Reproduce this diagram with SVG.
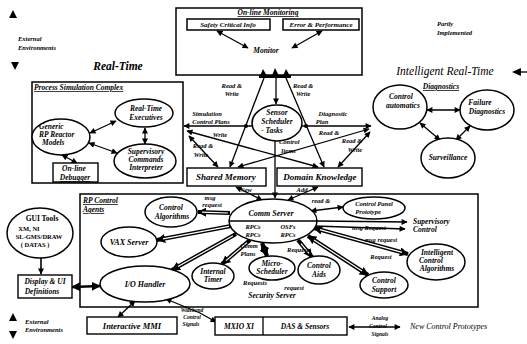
<svg xmlns="http://www.w3.org/2000/svg" width="527" height="344" viewBox="0 0 527 344">
<style>
.bx{fill:none;stroke:#000;stroke-width:1.5}
.nb{fill:#fff;stroke:#000;stroke-width:1.4}
.el{fill:#fff;stroke:#000;stroke-width:1.5}
.t{font-family:"Liberation Serif",serif;font-style:italic;font-weight:bold;font-size:7.5px;fill:#000;text-anchor:middle}
.l{font-size:6.5px}
.h{font-size:11.5px}
.s{text-anchor:start}
.u{text-decoration:underline}
.n{font-style:normal}
.ln{stroke:#000;stroke-width:1.3;fill:none}
.th{stroke:#000;stroke-width:4.2;fill:none}
.tw{stroke:#fff;stroke-width:1.2;fill:none}
</style>
<defs>
<marker id="ah" viewBox="0 0 10 10" refX="9" refY="5" markerWidth="7" markerHeight="6" orient="auto-start-reverse" markerUnits="userSpaceOnUse"><path d="M0,0 L10,5 L0,10 z"/></marker>
<marker id="ab" viewBox="0 0 10 10" refX="9" refY="5" markerWidth="9" markerHeight="9" orient="auto-start-reverse" markerUnits="userSpaceOnUse"><path d="M0,0 L10,5 L0,10 z"/></marker>
</defs>
<rect width="527" height="344" fill="#fff"/>

<g id="labels-free">
<polygon points="13,10 9,18 17,18"/>
<text class="t l s" x="18" y="41">External</text>
<text class="t l s" x="18" y="50">Environments</text>
<polygon points="11,62 19,62 15,70"/>
<text class="t h" x="118" y="70">Real-Time</text>
<text class="t l s" x="437" y="26">Partly</text>
<text class="t l s" x="437" y="35">Implemented</text>
<text class="t h" x="445" y="75" style="font-weight:normal">Intelligent Real-Time</text>
<polygon points="512,72 521,68 521,76"/>
<line x1="520" y1="72" x2="527" y2="72" class="ln"/>
<text class="t u" x="441" y="89">Diagnostics</text>
<polygon points="13,313 9,321 17,321"/>
<text class="t l s" x="25" y="324">External</text>
<text class="t l s" x="25" y="332">Environments</text>
<polygon points="9,331 17,331 13,339"/>
<text class="t l" x="192" y="312" style="font-size:5.5px">Wideband</text>
<text class="t l" x="192" y="319" style="font-size:5.5px">Control</text>
<text class="t l" x="191" y="326" style="font-size:5.5px">Signals</text>
<text class="t l" x="380" y="320" style="font-size:5.5px">Analog</text>
<text class="t l" x="378" y="328" style="font-size:5.5px">Control</text>
<text class="t l" x="380" y="336" style="font-size:5.5px">Signals</text>
<text class="t s" x="410" y="329" style="font-weight:normal;font-size:8px">New Control Prototypes</text>
</g>

<g id="monitoring">
<rect class="bx" x="176" y="8" width="186" height="67"/>
<text class="t u" x="268" y="15">On-line Monitoring</text>
<text class="t" x="266" y="53">Monitor</text>
</g>
<g id="safety"><rect class="bx" x="187" y="19" width="83" height="11"/><text class="t" x="228" y="27" style="font-size:7px">Safety Critical Info</text></g>
<g id="error"><rect class="bx" x="283" y="19" width="76" height="11"/><text class="t" x="321" y="27" style="font-size:7px">Error &amp; Performance</text></g>

<g id="procsim">
<rect class="bx" x="32" y="82" width="151" height="101"/>
<text class="t s u" x="34" y="90">Process Simulation Complex</text>
</g>

<g id="rpagents">
<rect class="bx" x="80" y="194" width="398" height="113"/>
<text class="t s u" x="83" y="203">RP Control</text>
<text class="t s u" x="83" y="212">Agents</text>
</g>

<g id="connectors">
<line class="ln" x1="217" y1="31" x2="248" y2="48" marker-start="url(#ah)" marker-end="url(#ah)"/>
<line class="ln" x1="322" y1="31" x2="292" y2="48" marker-start="url(#ah)" marker-end="url(#ah)"/>
<polygon points="263,69 259,78 268,78"/>
<polygon points="275,68 271,78 280,78"/>
<polygon points="286,69 282,78 291,78"/>
<rect x="259" y="75" width="32" height="3"/>
<line class="ln" x1="264" y1="78" x2="230" y2="167" marker-end="url(#ah)"/>
<line class="ln" x1="276" y1="78" x2="276" y2="104" marker-end="url(#ah)"/>
<line class="ln" x1="286" y1="78" x2="324" y2="167" marker-end="url(#ah)"/>
<line class="ln" x1="184" y1="126" x2="371" y2="126" marker-start="url(#ah)" marker-end="url(#ah)"/>
<circle cx="246" cy="126" r="2"/>
<circle cx="306" cy="126" r="2"/>
<line class="ln" x1="187" y1="131" x2="318" y2="167" marker-start="url(#ah)" marker-end="url(#ah)"/>
<line class="ln" x1="369" y1="129" x2="238" y2="167" marker-start="url(#ah)" marker-end="url(#ah)"/>
<line class="ln" x1="189" y1="136" x2="218" y2="167" marker-start="url(#ah)" marker-end="url(#ah)"/>
<line class="ln" x1="370" y1="132" x2="338" y2="167" marker-start="url(#ah)" marker-end="url(#ah)"/>
<line class="ln" x1="275" y1="141" x2="275" y2="198" marker-end="url(#ah)"/>
<line class="ln" x1="236" y1="187" x2="262" y2="200" marker-start="url(#ah)" marker-end="url(#ah)"/>
<line class="ln" x1="318" y1="187" x2="288" y2="200" marker-start="url(#ah)" marker-end="url(#ah)"/>
<text class="t l" x="242" y="88" style="text-anchor:end">Read &amp;</text>
<text class="t l" x="239" y="96" style="text-anchor:end">Write</text>
<text class="t l s" x="293" y="88">Read &amp;</text>
<text class="t l s" x="296" y="96">Write</text>
<text class="t l" x="207" y="116">Simulation</text>
<text class="t l" x="211" y="124">Control Plans</text>
<text class="t l" x="333" y="116">Diagnostic</text>
<text class="t l" x="322" y="124">Plan</text>
<text class="t l" x="220" y="137">Write</text>
<text class="t l" x="203" y="148">Read &amp;</text>
<text class="t l" x="201" y="157">Write</text>
<text class="t l s" x="279" y="144">Control</text>
<text class="t l s" x="281" y="153">Items</text>
<text class="t l" x="329" y="135">Read &amp;</text>
<text class="t l" x="352" y="143">Read &amp;</text>
<text class="t l" x="355" y="152">Write</text>
<text class="t l" x="246" y="192">New</text>
<text class="t l" x="302" y="192">Add</text>

<line class="ln" x1="90" y1="133" x2="116" y2="121" marker-start="url(#ah)" marker-end="url(#ah)"/>
<line class="ln" x1="89" y1="143" x2="117" y2="153" marker-start="url(#ah)" marker-end="url(#ah)"/>
<line class="ln" x1="145" y1="128" x2="145" y2="144" marker-start="url(#ah)" marker-end="url(#ah)"/>
<line class="ln" x1="62" y1="155" x2="77" y2="163" marker-start="url(#ah)" marker-end="url(#ah)"/>

<line class="ln" x1="427" y1="110" x2="460" y2="110" marker-start="url(#ah)" marker-end="url(#ah)"/>
<line class="ln" x1="420" y1="123" x2="440" y2="140" marker-start="url(#ah)" marker-end="url(#ah)"/>
<line class="ln" x1="470" y1="126" x2="456" y2="140" marker-start="url(#ah)" marker-end="url(#ah)"/>

<line class="th" x1="230" y1="213" x2="198" y2="212" marker-end="url(#ab)"/>
<line class="th" x1="231" y1="226" x2="157" y2="240" marker-end="url(#ab)"/>
<line class="th" x1="236" y1="234" x2="172" y2="270" marker-end="url(#ab)"/>
<line class="th" x1="250" y1="240" x2="222" y2="264" marker-end="url(#ab)"/>
<line class="th" x1="262" y1="243" x2="267" y2="256" marker-start="url(#ab)" marker-end="url(#ab)"/>
<line class="th" x1="298" y1="240" x2="312" y2="257" marker-end="url(#ab)"/>
<line class="th" x1="308" y1="236" x2="368" y2="275" marker-start="url(#ab)" marker-end="url(#ab)"/>
<line class="th" x1="314" y1="228" x2="408" y2="254" marker-start="url(#ab)" marker-end="url(#ab)"/>
<line class="tw" x1="228" y1="213" x2="202" y2="212.2"/>
<line class="tw" x1="229" y1="226.4" x2="163" y2="238.8"/>
<line class="tw" x1="233" y1="235.7" x2="178" y2="266.6"/>
<line class="tw" x1="247" y1="242.6" x2="226" y2="260.6"/>
<line class="tw" x1="301" y1="243.6" x2="309" y2="253.4"/>
<line class="tw" x1="314" y1="240" x2="362" y2="271"/>
<line class="tw" x1="320" y1="229.7" x2="402" y2="252.3"/>
<line class="ln" x1="317" y1="221" x2="407" y2="222" marker-end="url(#ah)"/>
<line class="ln" x1="314" y1="226" x2="405" y2="229" marker-end="url(#ah)"/>
<line class="ln" x1="311" y1="211" x2="343" y2="207" marker-start="url(#ah)" marker-end="url(#ah)"/>
<text class="t l" x="210" y="200">msg</text>
<text class="t l" x="212" y="207">request</text>
<text class="t l" x="321" y="203">read &amp;</text>
<text class="t l" x="369" y="230">msg Request</text>
<text class="t l" x="381" y="242">msg request</text>
<text class="t l" x="381" y="259">Request</text>
<text class="t l" x="299" y="252">Requests</text>
<text class="t l" x="249" y="248">Comm</text>
<text class="t l" x="248" y="256">Plans</text>
<text class="t l" x="255" y="285">Requests</text>
<text class="t l" x="294" y="290">request</text>

<line class="ln" x1="41" y1="258" x2="41" y2="274" style="stroke-width:1.6" marker-end="url(#ah)"/>
<line class="th" x1="72" y1="287" x2="100" y2="286" style="stroke-width:2.4" marker-start="url(#ab)" marker-end="url(#ab)"/>
<line class="ln" x1="118" y1="317" x2="135" y2="301" marker-start="url(#ah)" marker-end="url(#ah)"/>
<polyline class="ln" points="216,322 200,313 166,299" marker-start="url(#ah)" marker-end="url(#ah)"/>
<line class="ln" x1="349" y1="327" x2="400" y2="327" marker-start="url(#ah)" marker-end="url(#ah)"/>
</g>

<g id="real-time-exec"><ellipse class="el" cx="144" cy="113" rx="29" ry="14"/><text class="t" x="146" y="111">Real-Time</text><text class="t" x="146" y="120">Executives</text></g>
<g id="generic-models"><ellipse class="el" cx="61" cy="137" rx="29" ry="18"/><text class="t s" x="39" y="129">Generic</text><text class="t s" x="39" y="137">RP Reactor</text><text class="t s" x="42" y="145">Models</text></g>
<g id="supervisory-cmd"><ellipse class="el" cx="145" cy="161" rx="31" ry="17"/><text class="t" x="146" y="154">Supervisory</text><text class="t" x="146" y="162">Commands</text><text class="t" x="146" y="170">Interpreter</text></g>
<g id="debugger"><rect class="nb" x="53" y="163" width="45" height="19"/><text class="t" x="74" y="171">On-line</text><text class="t u" x="75" y="180">Debugger</text></g>

<g id="sensor-scheduler"><ellipse class="el" cx="277" cy="123" rx="25" ry="18"/><text class="t" x="277" y="115">Sensor</text><text class="t" x="277" y="124">Scheduler</text><text class="t" x="272" y="133">- Tasks</text></g>
<g id="shared-memory"><rect class="nb" x="187" y="168" width="79" height="18"/><text class="t" x="226" y="180" style="font-size:9px">Shared Memory</text></g>
<g id="domain-knowledge"><rect class="nb" x="277" y="168" width="85" height="18"/><text class="t" x="320" y="180" style="font-size:9px">Domain Knowledge</text></g>

<g id="control-automatics"><ellipse class="el" cx="400" cy="107" rx="27" ry="22"/><text class="t" x="401" y="99">Control</text><text class="t" x="403" y="108">automatics</text></g>
<g id="failure-diagnostics"><ellipse class="el" cx="487" cy="110" rx="27" ry="20"/><text class="t" x="480" y="105">Failure</text><text class="t" x="487" y="114">Diagnostics</text></g>
<g id="surveillance"><ellipse class="el" cx="448" cy="158" rx="27" ry="20"/><text class="t" x="448" y="160">Surveillance</text></g>

<g id="comm-server"><ellipse class="el" cx="273" cy="221" rx="44" ry="22"/><line class="ln" x1="229" y1="221" x2="317" y2="221"/><text class="t" x="271" y="216" style="font-size:8px">Comm Server</text><text class="t l" x="253" y="229">RPCs</text><text class="t l" x="253" y="237">RPCs</text><text class="t l" x="288" y="229">OSFs</text><text class="t l" x="288" y="237">RPCs</text></g>
<g id="control-algorithms"><ellipse class="el" cx="171" cy="212" rx="26" ry="15"/><text class="t" x="171" y="210">Control</text><text class="t" x="172" y="219">Algorithms</text></g>
<g id="vax-server"><ellipse class="el" cx="129" cy="242" rx="28" ry="15"/><text class="t" x="129" y="245" style="font-size:8px">VAX Server</text></g>
<g id="io-handler"><ellipse class="el" cx="145" cy="284" rx="45" ry="18"/><text class="t" x="145" y="287" style="font-size:8px">I/O Handler</text></g>
<g id="internal-timer"><ellipse class="el" cx="213" cy="276" rx="21" ry="13"/><text class="t" x="213" y="274">Internal</text><text class="t" x="213" y="282">Timer</text></g>
<g id="micro-scheduler"><ellipse class="el" cx="272" cy="268" rx="23" ry="12"/><text class="t" x="272" y="266">Micro-</text><text class="t" x="272" y="274">Scheduler</text></g>
<g id="control-aids"><ellipse class="el" cx="319" cy="270" rx="21" ry="14"/><text class="t" x="319" y="268">Control</text><text class="t" x="319" y="277">Aids</text></g>
<g id="security-server"><text class="t" x="272" y="298">Security Server</text></g>
<g id="control-panel"><ellipse class="el" cx="374" cy="208" rx="31" ry="11"/><text class="t l" x="374" y="206">Control Panel</text><text class="t l" x="368" y="214">Prototype</text></g>
<g id="supervisory-control"><text class="t s" x="413" y="224">Supervisory</text><text class="t s" x="413" y="232">Control</text></g>
<g id="intelligent-control"><ellipse class="el" cx="436" cy="262" rx="29" ry="18"/><text class="t" x="437" y="255">Intelligent</text><text class="t" x="431" y="263">Control</text><text class="t" x="437" y="271">Algorithms</text></g>
<g id="control-support"><ellipse class="el" cx="384" cy="285" rx="24" ry="13"/><text class="t" x="384" y="283">Control</text><text class="t" x="384" y="292">Support</text></g>

<g id="gui-tools"><ellipse class="el" cx="40" cy="233" rx="33" ry="25"/><text class="t n" x="42" y="221">GUI Tools</text><text class="t l n" x="29" y="231">XM, NI</text><text class="t l n" x="39" y="239">SL-GMS/DRAW</text><text class="t l n" x="35" y="247">( DATAS )</text></g>
<g id="display-ui"><rect class="nb" x="18" y="275" width="54" height="23"/><text class="t" x="45" y="284">Display &amp; UI</text><text class="t" x="42" y="294">Definitions</text></g>
<g id="interactive-mmi"><rect class="nb" x="87" y="317" width="90" height="17"/><text class="t" x="132" y="329" style="font-size:8.5px">Interactive MMI</text></g>
<g id="mxio-das"><rect class="nb" x="215" y="317" width="132" height="18"/><line class="ln" x1="263" y1="317" x2="263" y2="335"/><text class="t" x="239" y="329">MXIO XI</text><text class="t" x="305" y="329">DAS &amp; Sensors</text></g>
</svg>
